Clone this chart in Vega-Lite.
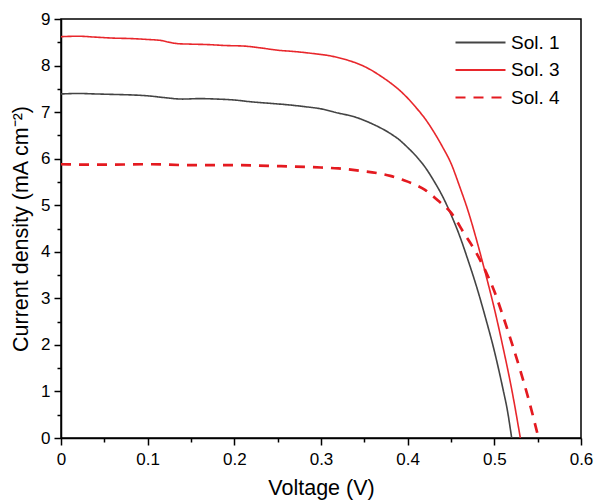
{
  "$schema": "https://vega.github.io/schema/vega-lite/v6.json",
  "width": 520,
  "height": 419,
  "autosize": "none",
  "padding": {"left": 61, "top": 19, "right": 14, "bottom": 66},
  "background": "white",
  "config": {
    "font": "Liberation Sans",
    "view": {"stroke": "black", "strokeWidth": 1.5}
  },
  "data": {
    "values": [
      {"s": "Sol. 1", "V": 0.0, "J": 7.39},
      {"s": "Sol. 1", "V": 0.02, "J": 7.4},
      {"s": "Sol. 1", "V": 0.04, "J": 7.39},
      {"s": "Sol. 1", "V": 0.06, "J": 7.38},
      {"s": "Sol. 1", "V": 0.08, "J": 7.37},
      {"s": "Sol. 1", "V": 0.1, "J": 7.35},
      {"s": "Sol. 1", "V": 0.12, "J": 7.31},
      {"s": "Sol. 1", "V": 0.14, "J": 7.28},
      {"s": "Sol. 1", "V": 0.16, "J": 7.29},
      {"s": "Sol. 1", "V": 0.18, "J": 7.28},
      {"s": "Sol. 1", "V": 0.2, "J": 7.26},
      {"s": "Sol. 1", "V": 0.22, "J": 7.22},
      {"s": "Sol. 1", "V": 0.24, "J": 7.19},
      {"s": "Sol. 1", "V": 0.26, "J": 7.16},
      {"s": "Sol. 1", "V": 0.28, "J": 7.12},
      {"s": "Sol. 1", "V": 0.3, "J": 7.07},
      {"s": "Sol. 1", "V": 0.32, "J": 6.98},
      {"s": "Sol. 1", "V": 0.34, "J": 6.89},
      {"s": "Sol. 1", "V": 0.36, "J": 6.74},
      {"s": "Sol. 1", "V": 0.38, "J": 6.54},
      {"s": "Sol. 1", "V": 0.39, "J": 6.41},
      {"s": "Sol. 1", "V": 0.4, "J": 6.24},
      {"s": "Sol. 1", "V": 0.41, "J": 6.05},
      {"s": "Sol. 1", "V": 0.42, "J": 5.82},
      {"s": "Sol. 1", "V": 0.43, "J": 5.53},
      {"s": "Sol. 1", "V": 0.44, "J": 5.2},
      {"s": "Sol. 1", "V": 0.45, "J": 4.8},
      {"s": "Sol. 1", "V": 0.46, "J": 4.34},
      {"s": "Sol. 1", "V": 0.47, "J": 3.8},
      {"s": "Sol. 1", "V": 0.48, "J": 3.22},
      {"s": "Sol. 1", "V": 0.49, "J": 2.57},
      {"s": "Sol. 1", "V": 0.5, "J": 1.87},
      {"s": "Sol. 1", "V": 0.51, "J": 1.05},
      {"s": "Sol. 1", "V": 0.515, "J": 0.6},
      {"s": "Sol. 1", "V": 0.52, "J": 0.0},
      {"s": "Sol. 3", "V": 0.0, "J": 8.62},
      {"s": "Sol. 3", "V": 0.02, "J": 8.63},
      {"s": "Sol. 3", "V": 0.04, "J": 8.61},
      {"s": "Sol. 3", "V": 0.06, "J": 8.59},
      {"s": "Sol. 3", "V": 0.08, "J": 8.58},
      {"s": "Sol. 3", "V": 0.1, "J": 8.56},
      {"s": "Sol. 3", "V": 0.115, "J": 8.54},
      {"s": "Sol. 3", "V": 0.125, "J": 8.5},
      {"s": "Sol. 3", "V": 0.135, "J": 8.47},
      {"s": "Sol. 3", "V": 0.15, "J": 8.46},
      {"s": "Sol. 3", "V": 0.17, "J": 8.45},
      {"s": "Sol. 3", "V": 0.19, "J": 8.43},
      {"s": "Sol. 3", "V": 0.21, "J": 8.42},
      {"s": "Sol. 3", "V": 0.23, "J": 8.38},
      {"s": "Sol. 3", "V": 0.25, "J": 8.33},
      {"s": "Sol. 3", "V": 0.27, "J": 8.3},
      {"s": "Sol. 3", "V": 0.29, "J": 8.26},
      {"s": "Sol. 3", "V": 0.31, "J": 8.21},
      {"s": "Sol. 3", "V": 0.33, "J": 8.12},
      {"s": "Sol. 3", "V": 0.35, "J": 7.98},
      {"s": "Sol. 3", "V": 0.36, "J": 7.88},
      {"s": "Sol. 3", "V": 0.37, "J": 7.76},
      {"s": "Sol. 3", "V": 0.38, "J": 7.63},
      {"s": "Sol. 3", "V": 0.39, "J": 7.48},
      {"s": "Sol. 3", "V": 0.4, "J": 7.3},
      {"s": "Sol. 3", "V": 0.41, "J": 7.09},
      {"s": "Sol. 3", "V": 0.42, "J": 6.86},
      {"s": "Sol. 3", "V": 0.43, "J": 6.58},
      {"s": "Sol. 3", "V": 0.44, "J": 6.26},
      {"s": "Sol. 3", "V": 0.45, "J": 5.9},
      {"s": "Sol. 3", "V": 0.46, "J": 5.4},
      {"s": "Sol. 3", "V": 0.47, "J": 4.86},
      {"s": "Sol. 3", "V": 0.48, "J": 4.22},
      {"s": "Sol. 3", "V": 0.49, "J": 3.52},
      {"s": "Sol. 3", "V": 0.5, "J": 2.78},
      {"s": "Sol. 3", "V": 0.51, "J": 1.95},
      {"s": "Sol. 3", "V": 0.52, "J": 1.05},
      {"s": "Sol. 3", "V": 0.53, "J": 0.0},
      {"s": "Sol. 4", "V": 0.0, "J": 5.88},
      {"s": "Sol. 4", "V": 0.05, "J": 5.87},
      {"s": "Sol. 4", "V": 0.1, "J": 5.88},
      {"s": "Sol. 4", "V": 0.15, "J": 5.86},
      {"s": "Sol. 4", "V": 0.2, "J": 5.86},
      {"s": "Sol. 4", "V": 0.25, "J": 5.84},
      {"s": "Sol. 4", "V": 0.3, "J": 5.81},
      {"s": "Sol. 4", "V": 0.32, "J": 5.79},
      {"s": "Sol. 4", "V": 0.345, "J": 5.74},
      {"s": "Sol. 4", "V": 0.365, "J": 5.69},
      {"s": "Sol. 4", "V": 0.38, "J": 5.63},
      {"s": "Sol. 4", "V": 0.395, "J": 5.54},
      {"s": "Sol. 4", "V": 0.41, "J": 5.43},
      {"s": "Sol. 4", "V": 0.42, "J": 5.33},
      {"s": "Sol. 4", "V": 0.435, "J": 5.1},
      {"s": "Sol. 4", "V": 0.45, "J": 4.84},
      {"s": "Sol. 4", "V": 0.465, "J": 4.4},
      {"s": "Sol. 4", "V": 0.48, "J": 3.95},
      {"s": "Sol. 4", "V": 0.49, "J": 3.58},
      {"s": "Sol. 4", "V": 0.5, "J": 3.15},
      {"s": "Sol. 4", "V": 0.51, "J": 2.62},
      {"s": "Sol. 4", "V": 0.52, "J": 2.05},
      {"s": "Sol. 4", "V": 0.53, "J": 1.45},
      {"s": "Sol. 4", "V": 0.54, "J": 0.8},
      {"s": "Sol. 4", "V": 0.551, "J": 0.0}
    ]
  },
  "mark": {"type": "line", "interpolate": "monotone", "clip": true},
  "encoding": {
    "x": {
      "field": "V",
      "type": "quantitative",
      "scale": {"domain": [0, 0.6], "nice": false},
      "axis": {
        "values": [0, 0.05, 0.1, 0.15, 0.2, 0.25, 0.3, 0.35, 0.4, 0.45, 0.5, 0.55, 0.6],
        "labelExpr": "round(datum.value*100) % 10 === 0 ? format(datum.value, '.1~f') : ''",
        "tickSize": {"condition": {"test": "round(datum.value*100) % 10 === 0", "value": 7}, "value": 4},
        "tickColor": "black",
        "tickWidth": 1.5,
        "domainColor": "black",
        "domainWidth": 1.5,
        "grid": false,
        "labelFontSize": 17,
        "labelColor": "black",
        "labelPadding": 6,
        "labelOverlap": false,
        "labelFlush": false,
        "title": "Voltage (V)",
        "titleFontSize": 21.5,
        "titleFontWeight": "normal",
        "titleColor": "black",
        "titlePadding": 10
      }
    },
    "y": {
      "field": "J",
      "type": "quantitative",
      "scale": {"domain": [0, 9], "nice": false},
      "axis": {
        "values": [0, 0.5, 1, 1.5, 2, 2.5, 3, 3.5, 4, 4.5, 5, 5.5, 6, 6.5, 7, 7.5, 8, 8.5, 9],
        "labelExpr": "round(datum.value*10) % 10 === 0 ? format(datum.value, 'd') : ''",
        "tickSize": {"condition": {"test": "round(datum.value*10) % 10 === 0", "value": 7}, "value": 4},
        "tickColor": "black",
        "tickWidth": 1.5,
        "domainColor": "black",
        "domainWidth": 1.5,
        "grid": false,
        "labelFontSize": 17,
        "labelColor": "black",
        "labelPadding": 4,
        "labelOverlap": false,
        "labelFlush": false,
        "title": "Current density (mA cm⁻²)",
        "titleFontSize": 21.5,
        "titleFontWeight": "normal",
        "titleColor": "black",
        "titlePadding": 8
      }
    },
    "color": {
      "field": "s",
      "type": "nominal",
      "scale": {"domain": ["Sol. 1", "Sol. 3", "Sol. 4"], "range": ["#444444", "#e8272c", "#e41a20"]},
      "legend": {
        "orient": "none",
        "legendX": 406,
        "legendY": 10,
        "title": null,
        "symbolType": "M-2,0H2",
        "symbolSize": 625,
        "symbolStrokeWidth": 2,
        "labelFontSize": 19,
        "labelColor": "black",
        "labelOffset": 17,
        "rowPadding": 3.5
      }
    },
    "strokeDash": {
      "field": "s",
      "type": "nominal",
      "scale": {"domain": ["Sol. 1", "Sol. 3", "Sol. 4"], "range": [[1, 0], [1, 0], [10, 8]]},
      "legend": {
        "orient": "none",
        "legendX": 406,
        "legendY": 10,
        "title": null,
        "symbolType": "M-2,0H2",
        "symbolSize": 625,
        "symbolStrokeWidth": 2,
        "labelFontSize": 19,
        "labelColor": "black",
        "labelOffset": 17,
        "rowPadding": 3.5
      }
    },
    "strokeWidth": {"condition": {"test": "datum.s === 'Sol. 4'", "value": 2.7}, "value": 1.6}
  }
}
